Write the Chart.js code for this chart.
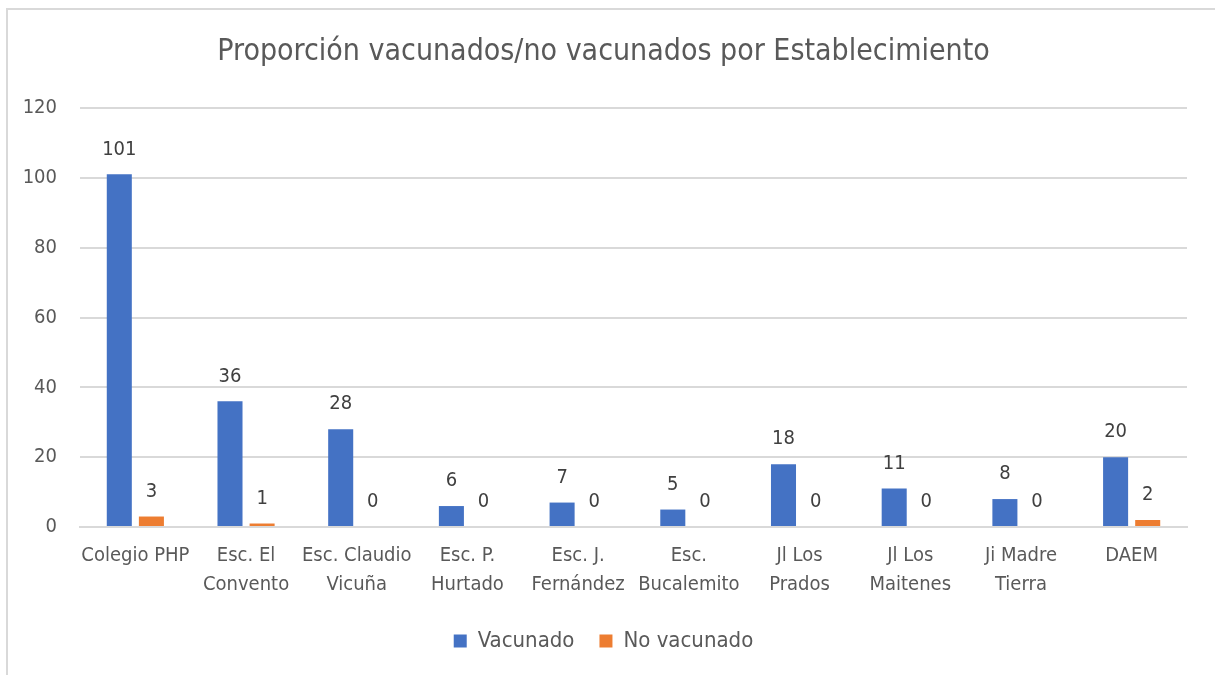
<!DOCTYPE html>
<html lang="es">
<head>
  <meta charset="UTF-8">
  <title>Proporción vacunados/no vacunados</title>
  <script src="https://cdn.jsdelivr.net/npm/chart.js"></script>
  <style>
    body { margin: 0; background: #fff; }
    .frame {
      position: absolute; left: 6px; top: 8px; width: 1300px; height: 800px;
      border: 2px solid #d9d9d9; box-sizing: border-box;
    }
    .chart-container { position: absolute; left: 0; top: 0; width: 1215px; height: 675px; }
  </style>
</head>
<body>
  <div class="frame"></div>
  <div class="chart-container">
    <canvas id="chart" width="1215" height="675"></canvas>
  </div>

  <script>
    const FONT = "'Liberation Sans Narrow', 'DejaVu Sans Condensed', 'Roboto', sans-serif";

    const categories = [
      ['Colegio PHP'], ['Esc. El', 'Convento'], ['Esc. Claudio', 'Vicuña'], ['Esc. P.', 'Hurtado'],
      ['Esc. J.', 'Fernández'], ['Esc.', 'Bucalemito'], ['Jl Los', 'Prados'], ['Jl Los', 'Maitenes'],
      ['Ji Madre', 'Tierra'], ['DAEM']
    ];
    const vacunado = [101, 36, 28, 6, 7, 5, 18, 11, 8, 20];
    const noVacunado = [3, 1, 0, 0, 0, 0, 0, 0, 0, 2];
    const yTicks = { min: 0, max: 120, step: 20 };

    // draws the value above each bar
    const valueLabels = {
      id: 'valueLabels',
      afterDatasetsDraw(chart) {
        const ctx = chart.ctx;
        ctx.save();
        ctx.font = '20px ' + FONT;
        ctx.fillStyle = '#404040';
        ctx.textAlign = 'center';
        ctx.textBaseline = 'middle';
        chart.data.datasets.forEach((ds, i) => {
          chart.getDatasetMeta(i).data.forEach((bar, j) => {
            ctx.fillText(String(ds.data[j]), bar.x, bar.y - 25);
          });
        });
        ctx.restore();
      }
    };

    new Chart(document.getElementById('chart').getContext('2d'), {
      type: 'bar',
      data: {
        labels: categories,
        datasets: [
          { label: 'Vacunado', data: vacunado, backgroundColor: '#4472C4',
            barPercentage: 0.78, categoryPercentage: 0.58 },
          { label: 'No vacunado', data: noVacunado, backgroundColor: '#ED7D31',
            barPercentage: 0.78, categoryPercentage: 0.58 }
        ]
      },
      options: {
        responsive: false,
        animation: false,
        layout: { padding: { left: 20, right: 28, top: 0, bottom: 13 } },
        plugins: {
          tooltip: { enabled: false },
          title: {
            display: true,
            text: 'Proporción vacunados/no vacunados por Establecimiento',
            color: '#595959',
            font: { family: FONT, size: 30, weight: 'normal' },
            padding: { top: 34, bottom: 38 }
          },
          legend: {
            position: 'bottom',
            labels: {
              color: '#595959',
              font: { family: FONT, size: 22 },
              boxWidth: 13, boxHeight: 13, padding: 25
            }
          }
        },
        scales: {
          x: {
            grid: { display: false },
            border: { color: '#d9d9d9', width: 2 },
            ticks: { color: '#595959', font: { family: FONT, size: 20, lineHeight: 1.45 }, padding: 6, maxRotation: 0, autoSkip: false }
          },
          y: {
            min: yTicks.min, max: yTicks.max,
            grid: { color: '#d9d9d9', lineWidth: 2, drawTicks: false },
            border: { display: false },
            ticks: { stepSize: yTicks.step, color: '#595959', font: { family: FONT, size: 20 }, padding: 23 },
            afterFit(scale) { scale.width = 60; }
          }
        }
      },
      plugins: [valueLabels]
    });
  </script>
</body>
</html>
